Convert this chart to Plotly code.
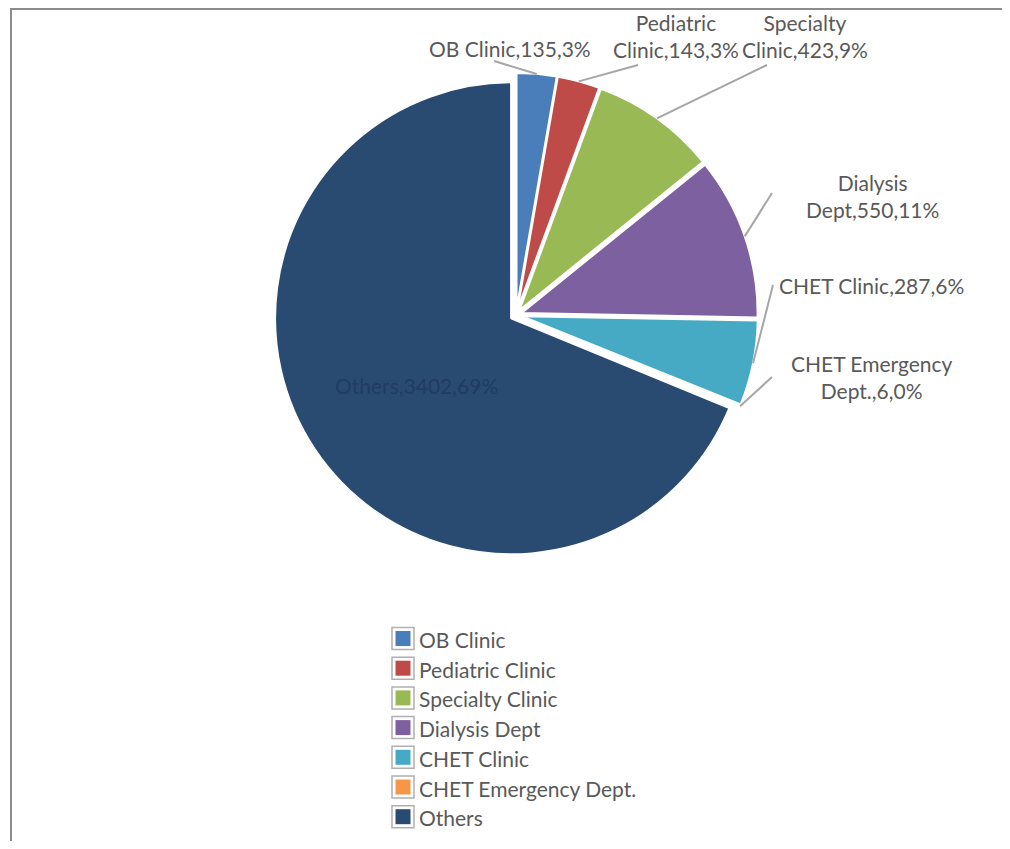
import math
import plotly.graph_objects as go

# ---- data ----
categories = ["OB Clinic", "Pediatric Clinic", "Specialty Clinic", "Dialysis Dept",
              "CHET Clinic", "CHET Emergency Dept.", "Others"]
values = [135, 143, 423, 550, 287, 6, 3402]
colors = ["#4a7ebb", "#be4b48", "#98b954", "#7d60a0", "#46aac5", "#f79646", "#294b72"]

# ---- layout constants (screen pixels of the reference) ----
SW, SH = 1010, 849          # window
OFF = 8                     # default page body margin
FW, FH = SW - 2 * OFF, SH - 2 * OFF
CX, CY, R = 516, 315, 236   # pie centre / radius in screen px
PULL = 0.025
FONT = "Lato, 'Open Sans', sans-serif"
FS = 21
GREY = "#595959"


def px_x(x):   # screen x -> paper
    return (x - OFF) / FW


def px_y(y):   # screen y -> paper (from bottom)
    return (OFF + FH - y) / FH


total = sum(values)
pcts = [round(v / total * 100) for v in values]

fig = go.Figure()
D = 2 * R * (1 + PULL)
fig.add_trace(go.Pie(
    labels=categories, values=values, sort=False, direction="clockwise", rotation=0,
    marker=dict(colors=colors, line=dict(color="white", width=2)),
    pull=[PULL] * len(values), textinfo="none", hoverinfo="label+value+percent",
    domain=dict(x=[px_x(CX - D / 2), px_x(CX + D / 2)],
                y=[px_y(CY + D / 2), px_y(CY - D / 2)]),
    showlegend=False,
))

# data label layout: (text centre x, y, leader start x, y, wrap)
label_layout = [
    (510, 48, 494, 61, False),
    (676, 36, 638, 65, True),
    (805, 36, 767, 65, True),
    (872, 196, 772, 193, True),
    (871, 285, 773, 285, False),
    (872, 377, 772, 377, True),
    (416, 385, None, None, False),
]

cum = 0
for i, (cat, v, p) in enumerate(zip(categories, values, pcts)):
    a0 = cum / total * 360
    cum += v
    a1 = cum / total * 360
    mid = math.radians((a0 + a1) / 2)
    tx = CX + R * (1 + PULL) * math.sin(mid)
    ty = CY - R * (1 + PULL) * math.cos(mid)
    lx, ly, sx, sy, wrap = label_layout[i]
    if wrap:
        a, b = cat.rsplit(" ", 1)
        text = f"{a}<br>{b},{v},{p}%"
    else:
        text = f"{cat},{v},{p}%"
    col = GREY if cat != "Others" else "#203c62"
    fig.add_annotation(x=lx, y=ly, xref="x", yref="y", text=text, showarrow=False,
                       font=dict(family=FONT, size=FS, color=col),
                       align="center", xanchor="center", yanchor="middle")
    if sx is not None:
        fig.add_shape(type="line", xref="x", yref="y", x0=sx, y0=sy, x1=tx, y1=ty,
                      line=dict(color="#a6a6a6", width=2))

# legend (Excel style keys)
LEG_X, LEG_Y0, LEG_DY = 392, 638.5, 29.7
for k, (cat, col) in enumerate(zip(categories, colors)):
    cy = LEG_Y0 + k * LEG_DY
    fig.add_shape(type="rect", xref="x", yref="y", x0=LEG_X, x1=LEG_X + 22,
                  y0=cy - 11, y1=cy + 11, fillcolor="white",
                  line=dict(color="#b0b0b0", width=1.5))
    fig.add_shape(type="rect", xref="x", yref="y", x0=LEG_X + 3.5, x1=LEG_X + 18.5,
                  y0=cy - 7.5, y1=cy + 7.5, fillcolor=col, line=dict(width=0))
    fig.add_annotation(x=LEG_X + 25, y=cy + 1, xref="x", yref="y", text=cat,
                       showarrow=False, xanchor="left", yanchor="middle",
                       font=dict(family=FONT, size=FS, color=GREY))

# frame lines (top and left)
fig.add_shape(type="line", xref="x", yref="y", x0=10, y0=9, x1=SW, y1=9,
              line=dict(color="#8c8c8c", width=2))
fig.add_shape(type="line", xref="x", yref="y", x0=11, y0=9, x1=11, y1=SH,
              line=dict(color="#8c8c8c", width=2))

fig.update_layout(
    width=FW, height=FH, margin=dict(l=0, r=0, t=0, b=0),
    paper_bgcolor="white", plot_bgcolor="rgba(0,0,0,0)",
    xaxis=dict(range=[OFF, OFF + FW], visible=False, fixedrange=True, domain=[0, 1]),
    yaxis=dict(range=[OFF + FH, OFF], visible=False, fixedrange=True, domain=[0, 1]),
    showlegend=False,
    font=dict(family=FONT),
)

fig.write_html("out.html")
